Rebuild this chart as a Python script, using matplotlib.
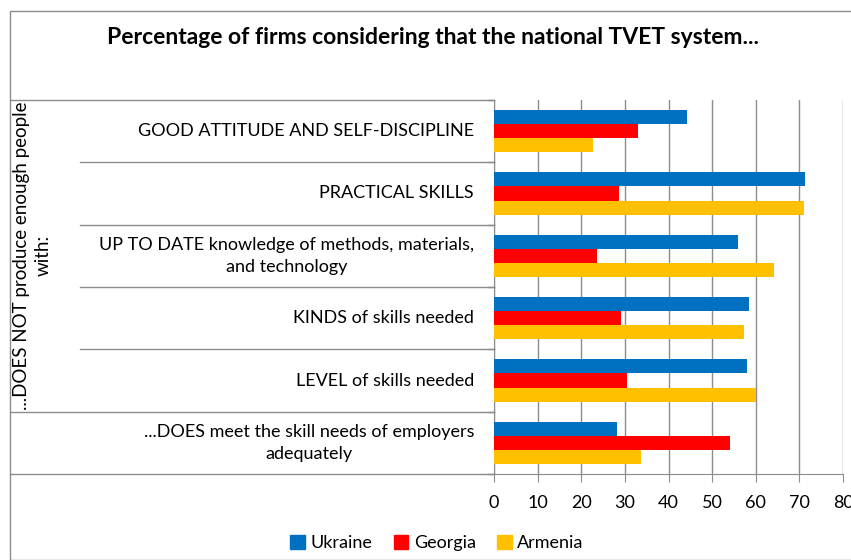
import matplotlib
matplotlib.use("Agg")
import matplotlib.pyplot as plt
import numpy as np
from matplotlib.transforms import blended_transform_factory
from matplotlib.lines import Line2D
from matplotlib.patches import Rectangle

plt.rcParams['font.family'] = ['Lato', 'DejaVu Sans']

categories = [
    "GOOD ATTITUDE AND SELF-DISCIPLINE",
    "PRACTICAL SKILLS",
    "UP TO DATE knowledge of methods, materials,\nand technology",
    "KINDS of skills needed",
    "LEVEL of skills needed",
    "...DOES meet the skill needs of employers\nadequately",
]
group_label = "...DOES NOT produce enough people\nwith:"
series_names = ["Ukraine", "Georgia", "Armenia"]
ukraine = [44.2, 71.4, 56.0, 58.4, 58.0, 28.1]
georgia = [32.9, 28.7, 23.5, 29.1, 30.6, 54.2]
armenia = [22.6, 71.0, 64.2, 57.2, 60.0, 33.8]
colors = ["#0070C0", "#FF0000", "#FFC000"]
xticks = [0, 10, 20, 30, 40, 50, 60, 70, 80]
title = "Percentage of firms considering that the national TVET system..."

W, H = 851, 560
fig = plt.figure(figsize=(W / 100, H / 100), dpi=100)
ax = fig.add_axes([494 / W, (H - 474) / H, (843 - 494) / W, (474 - 100) / H])

y = np.arange(len(categories))
bh = 0.225
for i, (vals, c, n) in enumerate(zip([ukraine, georgia, armenia], colors, series_names)):
    ax.barh(y + (i - 1) * bh, vals, height=bh, color=c, label=n, zorder=3)

ax.set_xlim(0, 80)
ax.set_ylim(len(categories) - 0.5, -0.5)
ax.set_xticks(xticks)
ax.set_xticklabels([str(t) for t in xticks], fontsize=13)
ax.set_yticks([])
gc = "#8c8c8c"
ax.grid(axis='x', color=gc, linewidth=1, zorder=0)
for s in ['top', 'right']:
    ax.spines[s].set_visible(False)
ax.spines['left'].set_color(gc)
ax.spines['bottom'].set_color(gc)
ax.tick_params(axis='x', length=6, color=gc, pad=9)

tr = blended_transform_factory(fig.transFigure, ax.transData)
# category separators
for b in np.arange(-0.5, len(categories) + 0.5, 1.0):
    if b in (-0.5, 4.5, 5.5):
        x0 = 10 / W
    else:
        x0 = 80 / W
    fig.add_artist(Line2D([x0, 494 / W], [b, b], transform=tr, color=gc, linewidth=1))
    fig.add_artist(Line2D([488 / W, 494 / W], [b, b], transform=tr, color=gc, linewidth=1))

# category labels
for yi, lab in zip(y, categories):
    fig.text(474 / W, yi, lab, transform=tr, ha='right', va='center',
             multialignment='center', fontsize=13, color='black', linespacing=1.45)

# group label (rotated)
fig.text(32 / W, 2.0, group_label, transform=tr, rotation=90, ha='center', va='center',
         multialignment='center', fontsize=13.5, linespacing=1.35)

# chart frame
fig.add_artist(Rectangle((10 / W, 0), 2, (H - 11) / H, transform=fig.transFigure,
                         fill=False, edgecolor=gc, linewidth=1))

fig.text(433 / W, (H - 37) / H, title, ha='center', va='center', fontsize=16.5, fontweight='bold')

handles = [Rectangle((0, 0), 1, 1, color=c) for c in colors]
fig.legend(handles, series_names, loc='center', bbox_to_anchor=(437 / W, (H - 543) / H),
           ncol=3, frameon=False, fontsize=13, handlelength=0.8, handleheight=0.8,
           handletextpad=0.3, columnspacing=1.2)

fig.savefig("out.png", dpi=100)
